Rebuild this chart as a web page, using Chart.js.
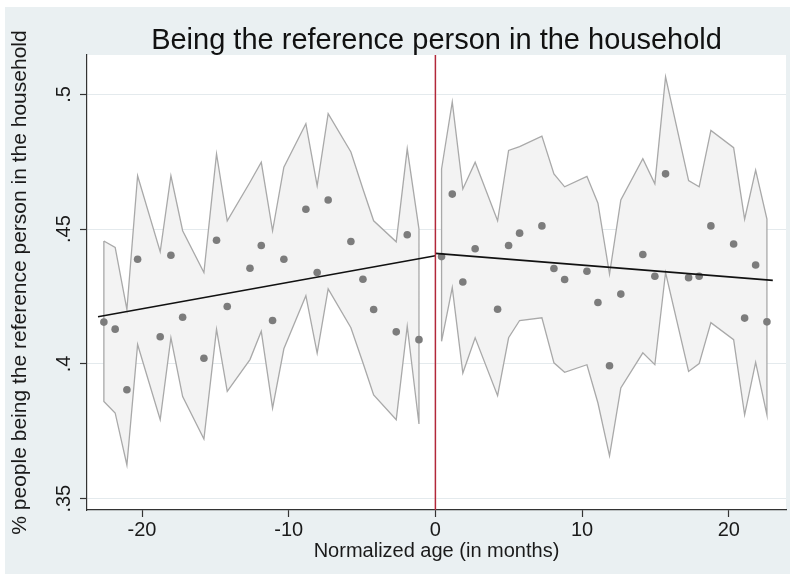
<!DOCTYPE html>
<html>
<head>
<meta charset="utf-8">
<title>Being the reference person in the household</title>
<script src="https://cdn.jsdelivr.net/npm/chart.js@4.4.1/dist/chart.umd.min.js"></script>
<style>
  html, body { margin: 0; padding: 0; background: #ffffff; }
  #wrap { width: 794px; height: 581px; }
</style>
</head>
<body>
<div id="wrap"><canvas id="myChart" width="794" height="581"></canvas></div>
<script>
// binned means left of the cutoff
const leftX = [-22.60, -21.83, -21.03, -20.30, -18.76, -18.03, -17.23, -15.78, -14.92, -14.19, -12.64, -11.87,
  -11.10, -10.33, -8.83, -8.06, -7.31, -5.76, -4.94, -4.21, -2.67, -1.92, -1.12];
const leftY = [0.4155, 0.4129, 0.3904, 0.4388, 0.4101, 0.4403, 0.4173, 0.4021, 0.4459, 0.4213, 0.4355, 0.4439,
  0.4161, 0.4388, 0.4574, 0.4339, 0.4608, 0.4454, 0.4314, 0.4202, 0.4119, 0.4479, 0.4090];
const leftUpper = [0.4456, 0.4432, 0.4202, 0.4698, 0.4416, 0.4698, 0.4494, 0.4339, 0.4779, 0.4531, 0.4674, 0.4748,
  0.4494, 0.4730, 0.4891, 0.4661, 0.4928, 0.4786, 0.4649, 0.4531, 0.4453, 0.4798, 0.4500];
const leftLower = [0.3861, 0.3818, 0.3625, 0.4072, 0.3793, 0.4097, 0.3879, 0.3721, 0.4128, 0.3898, 0.4016, 0.4121,
  0.3836, 0.4056, 0.4253, 0.4040, 0.4278, 0.4134, 0.4004, 0.3885, 0.3793, 0.4140, 0.3777];

// binned means right of the cutoff
const rightX = [0.42, 1.15, 1.87, 2.71, 4.24, 4.99, 5.74, 7.26, 8.08, 8.81, 10.33, 11.08,
  11.87, 12.64, 14.14, 14.96, 15.69, 17.26, 17.98, 18.78, 20.33, 21.08, 21.83, 22.60];
const rightY = [0.4398, 0.4630, 0.4304, 0.4427, 0.4203, 0.4439, 0.4485, 0.4512, 0.4354, 0.4313, 0.4344, 0.4228,
  0.3993, 0.4259, 0.4406, 0.4325, 0.4705, 0.4320, 0.4325, 0.4512, 0.4445, 0.4170, 0.4367, 0.4156];
const rightUpper = [0.4723, 0.4972, 0.4649, 0.4748, 0.4531, 0.4792, 0.4806, 0.4845, 0.4705, 0.4657, 0.4696, 0.4596,
  0.4333, 0.4608, 0.4761, 0.4668, 0.5065, 0.4680, 0.4657, 0.4866, 0.4802, 0.4537, 0.4719, 0.4537];
const rightLower = [0.4084, 0.4283, 0.3966, 0.4097, 0.3882, 0.4097, 0.4161, 0.4171, 0.4004, 0.3969, 0.3997, 0.3855,
  0.3659, 0.3911, 0.4041, 0.3997, 0.4339, 0.3972, 0.4001, 0.4153, 0.4090, 0.3811, 0.4006, 0.3811];

// linear fits on each side
const leftFitX = [-23, 0];
const leftFitY = [0.4175, 0.4401];
const rightFitX = [0, 23];
const rightFitY = [0.4410, 0.4310];

// axes
const xMin = -23.75, xMax = 23.9;
const yMin = 0.3458, yMax = 0.5146;
const xTicks = [-20, -10, 0, 10, 20];
const yTicks = [0.35, 0.4, 0.45, 0.5];
const yTickLabels = ['.35', '.4', '.45', '.5'];
const cutoff = 0;

const FONT = "'Liberation Sans', Arial, sans-serif";
Chart.defaults.font.family = FONT;
Chart.defaults.color = '#1a1a1a';

function pts(xs, ys) {
  return xs.map((x, i) => ({ x: x, y: ys[i] }));
}

// closed polygon: upper bound left->right, lower bound right->left
function band(xs, up, lo) {
  const p = pts(xs, up);
  for (let i = xs.length - 1; i >= 0; i--) p.push({ x: xs[i], y: lo[i] });
  p.push(p[0]);
  return p;
}

const bandStyle = {
  showLine: true,
  fill: 'shape',
  backgroundColor: '#f3f3f3',
  borderColor: '#a9a9a9',
  borderWidth: 1.3,
  pointRadius: 0,
  tension: 0
};
const dotStyle = {
  showLine: false,
  pointRadius: 3.8,
  pointBackgroundColor: '#7c7c7c',
  pointBorderWidth: 0
};
const fitStyle = {
  showLine: true,
  borderColor: '#111111',
  borderWidth: 1.6,
  pointRadius: 0,
  fill: false
};

const bgPlugin = {
  id: 'bg',
  beforeDraw(chart) {
    const { ctx, chartArea: a } = chart;
    ctx.save();
    ctx.fillStyle = '#ffffff';
    ctx.fillRect(0, 0, chart.width, chart.height);
    ctx.fillStyle = '#eaf0f2';
    ctx.fillRect(5, 7, 785, 567);
    ctx.fillStyle = '#ffffff';
    ctx.fillRect(a.left, a.top, a.right - a.left, a.bottom - a.top);
    ctx.restore();
  }
};

const data = {
  datasets: [
    Object.assign({ data: [{ x: cutoff, y: yMin }, { x: cutoff, y: yMax }], order: 0 },
      fitStyle, { borderColor: '#b2283a', borderWidth: 1.5 }),
    Object.assign({ data: pts(leftFitX, leftFitY), order: 1 }, fitStyle),
    Object.assign({ data: pts(rightFitX, rightFitY), order: 1 }, fitStyle),
    Object.assign({ data: pts(leftX, leftY), order: 2 }, dotStyle),
    Object.assign({ data: pts(rightX, rightY), order: 2 }, dotStyle),
    Object.assign({ data: band(leftX, leftUpper, leftLower), order: 3 }, bandStyle),
    Object.assign({ data: band(rightX, rightUpper, rightLower), order: 3 }, bandStyle)
  ]
};

const config = {
  type: 'scatter',
  data,
  options: {
    responsive: false,
    animation: false,
    layout: { padding: { left: 7, right: 8, top: 7, bottom: 8 } },
    plugins: {
      legend: { display: false },
      tooltip: { enabled: false },
      title: { display: false }
    },
    scales: {
      // top axis only carries the graph title, centred over the plot region
      top: {
        type: 'linear',
        position: 'top',
        min: xMin,
        max: xMax,
        afterFit(scale) { scale.height = 48; },
        ticks: { display: false },
        grid: { display: false },
        border: { display: false },
        title: {
          display: true,
          text: 'Being the reference person in the household',
          font: { size: 29, weight: 'normal' },
          color: '#111111',
          padding: { top: 16.5, bottom: 0 }
        }
      },
      x: {
        type: 'linear',
        min: xMin,
        max: xMax,
        afterBuildTicks(scale) { scale.ticks = xTicks.map(v => ({ value: v })); },
        afterFit(scale) { scale.height = 63; },
        ticks: { font: { size: 20 }, padding: 1, color: '#1a1a1a' },
        grid: { drawOnChartArea: false, tickLength: 7, tickColor: '#333333', tickWidth: 1.2 },
        border: { color: '#333333', width: 1.2 },
        title: {
          display: true,
          text: 'Normalized age (in months)',
          font: { size: 20 },
          color: '#1a1a1a',
          padding: { top: 0, bottom: 10 }
        }
      },
      y: {
        type: 'linear',
        min: yMin,
        max: yMax,
        afterBuildTicks(scale) { scale.ticks = yTicks.map(v => ({ value: v })); },
        afterFit(scale) { scale.width = 80; },
        ticks: {
          font: { size: 20 },
          minRotation: 90,
          maxRotation: 90,
          crossAlign: 'center',
          padding: 2,
          color: '#1a1a1a',
          callback: (v) => yTickLabels[yTicks.indexOf(v)]
        },
        grid: { color: '#e4eaed', lineWidth: 1, tickLength: 7, tickColor: '#333333', tickWidth: 1.2 },
        border: { color: '#333333', width: 1.2 },
        title: {
          display: true,
          text: '% people being the reference person in the household',
          font: { size: 21 },
          color: '#1a1a1a',
          padding: { top: 1, bottom: 0 }
        }
      }
    }
  },
  plugins: [bgPlugin]
};

const chart = new Chart(document.getElementById('myChart'), config);
</script>
</body>
</html>
